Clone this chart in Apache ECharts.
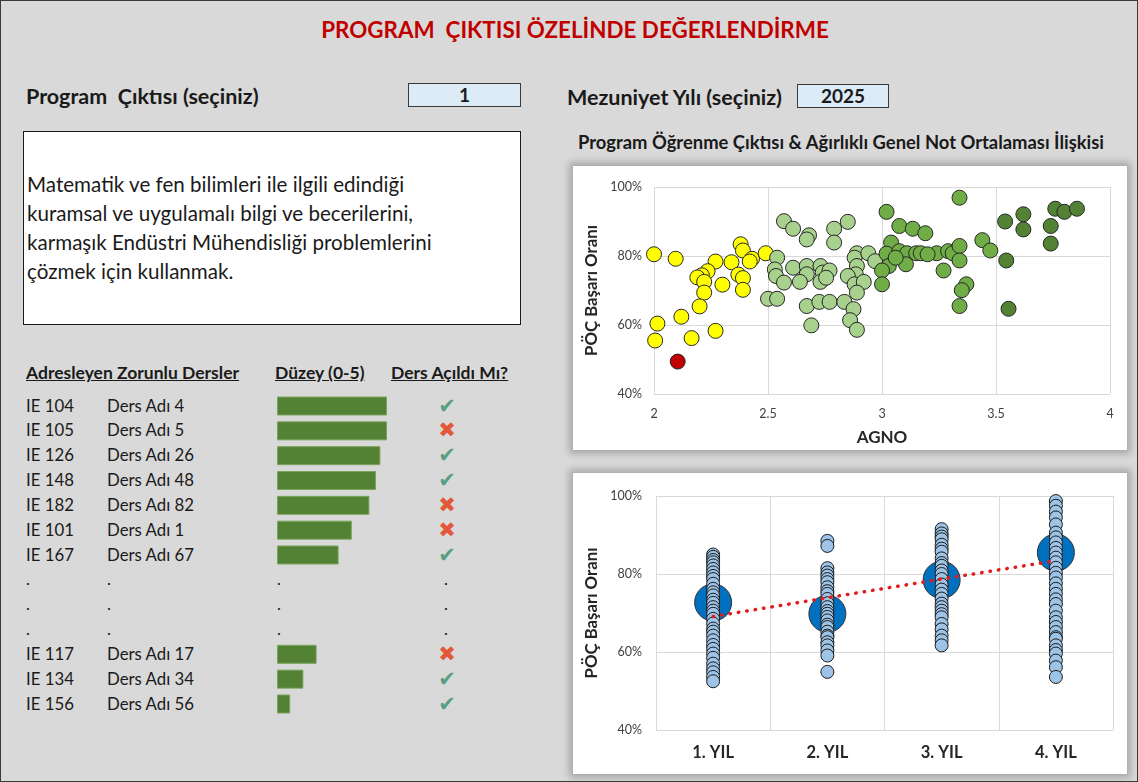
<!DOCTYPE html>
<html>
<head>
<meta charset="utf-8">
<script src="https://cdn.jsdelivr.net/npm/echarts@6/dist/echarts.min.js"></script>
<style>
  html, body { margin: 0; padding: 0; background: #D9D9D9; }
  #page { position: relative; width: 1138px; height: 782px; background: #D9D9D9; box-sizing: border-box; border: 1px solid #3a3a3a; overflow: hidden; font-family: Lato, "Noto Sans", sans-serif; color: #1a1a1a; }
  .abs { position: absolute; white-space: pre; }
  .frame { position: absolute; background: #fff; border: 1px solid #B0B0B0; box-shadow: 0 0 7px 3px rgba(0,0,0,0.22); }
  #chart { position: absolute; left: 0; top: 0; width: 1138px; height: 782px; }
  .hdr { font-weight: bold; font-size: 17.5px; text-decoration: underline; }
  .inbox { position: absolute; background: #DDEBF7; border: 1px solid #3a3a3a; font-weight: bold; font-size: 19px; text-align: center; box-sizing: border-box; }
</style>
</head>
<body>
<div id="page">
  <div class="abs" style="left:300px;width:548px;top:13px;line-height:32px;text-align:center;font-size:22.4px;font-weight:bold;color:#C00000;">PROGRAM  ÇIKTISI ÖZELİNDE DEĞERLENDİRME</div>

  <div class="abs" style="left:25px;top:81px;line-height:28px;font-size:21.5px;font-weight:bold;">Program  Çıktısı (seçiniz)</div>
  <div class="inbox" style="left:407px;top:82px;width:113px;height:24px;line-height:22px;">1</div>
  <div class="abs" style="left:566px;top:82px;line-height:28px;font-size:21.5px;font-weight:bold;">Mezuniyet Yılı (seçiniz)</div>
  <div class="inbox" style="left:796px;top:83px;width:92px;height:24px;line-height:22px;">2025</div>

  <div class="abs" style="left:22px;top:130px;width:498px;height:194px;box-sizing:border-box;border:1px solid #1a1a1a;background:#fff;"></div>
  <div id="desc" class="abs" style="left:26px;top:169px;font-size:20.6px;line-height:29px;"></div>

  <div class="abs" style="left:577px;top:130px;line-height:22px;font-size:18.4px;font-weight:bold;">Program Öğrenme Çıktısı &amp; Ağırlıklı Genel Not Ortalaması İlişkisi</div>

  <div class="frame" style="left:571px;top:164px;width:554px;height:284px;"></div>
  <div class="frame" style="left:571px;top:471px;width:554px;height:301px;"></div>

  <div class="abs hdr" style="left:25px;top:361px;line-height:22px;">Adresleyen Zorunlu Dersler</div>
  <div class="abs hdr" style="left:274px;top:361px;line-height:22px;">Düzey (0-5)</div>
  <div class="abs hdr" style="left:390px;top:361px;line-height:22px;">Ders Açıldı Mı?</div>
  <div id="rows"></div>

  <div id="chart"></div>
</div>
<script>
// ---------------- DATA ----------------
const descLines = [
  "Matematik ve fen bilimleri ile ilgili edindiği",
  "kuramsal ve uygulamalı bilgi ve becerilerini,",
  "karmaşık Endüstri Mühendisliği problemlerini",
  "çözmek için kullanmak."
];

const courseCodes = ['IE 104','IE 105','IE 126','IE 148','IE 182','IE 101','IE 167','.','.','.','IE 117','IE 134','IE 156'];
const courseNames = ['Ders Adı 4','Ders Adı 5','Ders Adı 26','Ders Adı 48','Ders Adı 82','Ders Adı 1','Ders Adı 67','.','.','.','Ders Adı 17','Ders Adı 34','Ders Adı 56'];
const courseLevels = [5, 5, 4.7, 4.5, 4.2, 3.4, 2.8, null, null, null, 1.8, 1.2, 0.6];
const courseOpened = [true, false, true, true, false, false, true, null, null, null, false, true, true];

// AGNO vs PÖÇ başarı oranı (%)
const redPoints = [[2.104, 49.4]];
const yellowPoints = [
  [2.00,80.5],[2.095,79.2],[2.27,78.4],[2.34,78.2],[2.38,83.4],[2.39,81.6],[2.43,79.2],[2.42,78.4],
  [2.49,80.8],[2.235,75.6],[2.21,74.4],[2.19,73.8],[2.22,72.5],[2.22,69.4],[2.30,71.7],[2.37,74.6],
  [2.39,73.6],[2.39,70.2],[2.20,65.4],[2.12,62.4],[2.015,60.4],[2.005,55.5],[2.165,56.2],[2.27,58.3]
];
const lightGreenPoints = [
  [2.57,90.1],[2.61,87.9],[2.68,86.0],[2.67,84.8],[2.79,87.9],[2.85,89.9],[2.79,83.9],[2.54,79.5],
  [2.53,76.1],[2.535,74.2],[2.57,72.3],[2.61,76.6],[2.67,77.1],[2.67,74.7],[2.64,72.5],[2.73,77.1],
  [2.74,75.2],[2.77,75.8],[2.73,72.5],[2.755,73.7],[2.50,67.6],[2.54,67.6],[2.67,65.5],[2.725,66.7],
  [2.77,66.7],[2.835,66.7],[2.875,64.6],[2.86,61.4],[2.89,58.6],[2.69,59.9],[2.89,80.8],[2.88,79.5],
  [2.94,80.8],[2.97,78.5],[2.89,77.1],[2.885,74.7],[2.85,74.2],[2.88,71.8],[2.92,72.5],[2.89,69.4]
];
const midGreenPoints = [
  [3.02,92.8],[3.076,88.7],[3.135,87.9],[3.19,86.6],[3.34,96.9],[3.04,83.9],[3.02,80.7],[3.076,81.4],
  [3.11,80.8],[3.15,80.8],[3.17,80.8],[3.24,80.8],[3.29,81.4],[3.31,80.8],[3.34,82.9],[3.34,78.7],
  [3.105,77.6],[3.03,77.1],[3.00,75.8],[3.00,71.8],[3.27,75.8],[3.37,71.8],[3.35,70.1],[3.34,65.5],
  [3.44,84.6],[3.475,81.6],[3.06,79.5],[3.20,80.5]
];
const darkGreenPoints = [
  [3.54,90.0],[3.62,92.1],[3.62,87.7],[3.545,78.7],[3.555,64.7],[3.74,88.7],[3.74,83.6],[3.76,93.7],
  [3.80,92.8],[3.855,93.7]
];

// Yıllara göre başarı oranı (%)
const yearLabels = ['1. YIL','2. YIL','3. YIL','4. YIL'];
const year1 = [85.0,84.4,83.6,83.0,82.2,81.3,80.4,79.5,78.7,77.5,76.2,75.3,74.5,73.4,72.6,71.5,70.6,69.8,68.5,67.3,66.0,65.2,64.2,63.0,61.8,60.8,59.6,58.5,57.0,55.8,54.8,53.6,52.5];
const year2 = [88.5,87.2,81.5,80.4,79.6,78.7,77.9,76.6,75.6,74.9,73.6,72.5,71.5,70.5,69.8,69.0,68.1,67.0,66.4,65.2,64.2,63.8,62.5,61.7,60.4,59.1,54.9];
const year3 = [91.5,90.4,89.6,88.9,87.5,86.5,85.7,84.0,82.8,82.1,80.9,80.0,78.7,77.3,76.0,74.9,73.7,72.4,71.5,70.6,69.7,68.9,67.2,65.8,64.2,63.0,61.7];
const year4 = [98.7,97.5,96.0,94.5,92.7,90.6,89.4,88.1,86.7,85.5,84.2,83.0,81.6,80.3,79.1,77.6,76.2,74.9,73.5,72.3,70.6,68.9,67.7,66.4,65.1,63.8,63.4,61.7,60.5,59.6,57.8,56.1,53.6];
const yearMeans = [72.7, 69.8, 78.5, 85.5];
const yearTrend = [69.1, 73.9, 78.7, 83.4];

// ---------------- HTML TEXT ----------------
document.getElementById('desc').textContent = descLines.join('\n');

const rowTop = 392.6, rowH = 24.83;
let html = '';
courseCodes.forEach((c, i) => {
  const top = rowTop + i * rowH;
  const st = `top:${top}px;line-height:${rowH}px;font-size:16.8px;`;
  html += `<div class="abs" style="left:25px;${st}">${c}</div>`;
  html += `<div class="abs" style="left:106px;${st}">${courseNames[i]}</div>`;
  if (courseLevels[i] === null) {
    html += `<div class="abs" style="left:276px;${st}">.</div>`;
    html += `<div class="abs" style="left:443px;${st}">.</div>`;
  } else {
    const ok = courseOpened[i];
    html += `<div class="abs" style="left:433px;width:26px;text-align:center;top:${top}px;line-height:${rowH}px;font-family:'DejaVu Sans';font-size:${ok?21:21}px;color:${ok?'#5A9E84':'#E2583A'};">${ok?'✔':'✖'}</div>`;
  }
});
document.getElementById('rows').innerHTML = html;

// ---------------- CHART ----------------
const FONT = 'Lato, "Noto Sans", sans-serif';
const chart = echarts.init(document.getElementById('chart'), null, {renderer: 'canvas'});
const ptStyle = (color) => ({ color: color, borderColor: '#262626', borderWidth: 1, opacity: 1 });
const axisGray = '#D9D9D9';

const scatterTop = (data, color) => ({
  type: 'scatter', xAxisIndex: 1, yAxisIndex: 1, data: data, symbolSize: 15,
  itemStyle: ptStyle(color), emphasis: { disabled: true }, silent: true
});
const yearSeries = [year1, year2, year3, year4].map((arr, k) => ({
  type: 'scatter', xAxisIndex: 2, yAxisIndex: 2, z: 3, symbolSize: 13,
  data: arr.map(v => [k, v]),
  itemStyle: { color: '#9DC3E6', borderColor: '#1a1a1a', borderWidth: 1, opacity: 1 },
  emphasis: { disabled: true }, silent: true
}));

chart.setOption({
  animation: false,
  textStyle: { fontFamily: FONT },
  grid: [
    { left: 276, top: rowTop, width: 110, height: rowH * courseCodes.length },
    { left: 653, top: 186, width: 456, height: 207 },
    { left: 655, top: 495, width: 457, height: 234 }
  ],
  xAxis: [
    { gridIndex: 0, type: 'value', min: 0, max: 5, show: false },
    { gridIndex: 1, type: 'value', min: 2, max: 4, interval: 0.5,
      axisLine: { show: false }, axisTick: { show: false },
      splitLine: { show: true, lineStyle: { color: axisGray, width: 1 } },
      axisLabel: { color: '#404040', fontSize: 12.5, margin: 13, fontFamily: FONT },
      name: 'AGNO', nameLocation: 'middle', nameGap: 35,
      nameTextStyle: { fontWeight: 'bold', fontSize: 17, color: '#262626', fontFamily: FONT } },
    { gridIndex: 2, type: 'category', data: yearLabels, boundaryGap: true,
      axisLine: { show: true, lineStyle: { color: axisGray } }, axisTick: { show: false },
      splitLine: { show: true, interval: 0, lineStyle: { color: axisGray } },
      axisLabel: { color: '#262626', fontSize: 16.5, fontWeight: 'bold', margin: 14, fontFamily: FONT } }
  ],
  yAxis: [
    { gridIndex: 0, type: 'category', inverse: true, data: courseCodes.map((c, i) => 'r' + i), show: false },
    { gridIndex: 1, type: 'value', min: 40, max: 100, interval: 20,
      axisLine: { show: false }, axisTick: { show: false },
      splitLine: { show: true, lineStyle: { color: axisGray } },
      axisLabel: { formatter: '{value}%', color: '#404040', fontSize: 12.5, margin: 12, fontFamily: FONT },
      name: 'PÖÇ Başarı Oranı', nameLocation: 'middle', nameGap: 54, nameRotate: 90,
      nameTextStyle: { fontWeight: 'bold', fontSize: 16.8, color: '#262626', fontFamily: FONT } },
    { gridIndex: 2, type: 'value', min: 40, max: 100, interval: 20,
      axisLine: { show: false }, axisTick: { show: false },
      splitLine: { show: true, lineStyle: { color: axisGray } },
      axisLabel: { formatter: '{value}%', color: '#404040', fontSize: 12.5, margin: 14, fontFamily: FONT },
      name: 'PÖÇ Başarı Oranı', nameLocation: 'middle', nameGap: 56, nameRotate: 90,
      nameTextStyle: { fontWeight: 'bold', fontSize: 16.8, color: '#262626', fontFamily: FONT } }
  ],
  series: [
    { type: 'bar', xAxisIndex: 0, yAxisIndex: 0, data: courseLevels, barWidth: 19,
      itemStyle: { color: '#548235', borderColor: '#7AA35C', borderWidth: 1 }, silent: true },
    scatterTop(yellowPoints, '#FFFF00'),
    scatterTop(lightGreenPoints, '#A9D18E'),
    scatterTop(midGreenPoints, '#70AD47'),
    scatterTop(darkGreenPoints, '#548235'),
    scatterTop(redPoints, '#C00000'),
    { type: 'scatter', xAxisIndex: 2, yAxisIndex: 2, z: 2, symbolSize: 37,
      data: yearMeans.map((v, k) => [k, v]),
      itemStyle: { color: '#0070C0', borderColor: '#303030', borderWidth: 1, opacity: 1 }, silent: true },
    ...yearSeries,
    { type: 'line', xAxisIndex: 2, yAxisIndex: 2, z: 4, data: yearTrend, symbol: 'none',
      lineStyle: { color: '#E21B1B', width: 3.5, type: [0.5, 8], cap: 'round' }, silent: true }
  ]
});
</script>
</body>
</html>
